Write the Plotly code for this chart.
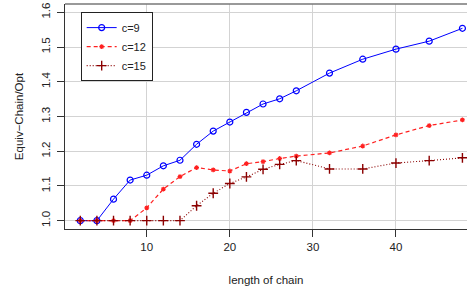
import plotly.graph_objects as go

x_vals = [2, 4, 6, 8, 10, 12, 14, 16, 18, 20, 22, 24, 26, 28, 32, 36, 40, 44, 48]
c9 = [1.0, 1.0, 1.062, 1.117, 1.131, 1.158, 1.174, 1.220, 1.258, 1.284, 1.312,
      1.336, 1.351, 1.374, 1.425, 1.465, 1.494, 1.517, 1.554]
c12 = [1.0, 1.0, 1.0, 1.0, 1.037, 1.091, 1.127, 1.153, 1.146, 1.143, 1.164,
       1.170, 1.179, 1.186, 1.195, 1.215, 1.247, 1.274, 1.290]
c15 = [1.0, 1.0, 1.0, 1.0, 1.0, 1.0, 1.0, 1.043, 1.079, 1.107, 1.126,
       1.148, 1.162, 1.173, 1.149, 1.149, 1.166, 1.173, 1.181]
series_names = ["c=9", "c=12", "c=15"]
x_ticks = [10, 20, 30, 40]
y_ticks = [1.0, 1.1, 1.2, 1.3, 1.4, 1.5, 1.6]

FONT = "Liberation Sans, Arial, sans-serif"

fig = go.Figure()
fig.add_trace(go.Scatter(
    x=x_vals, y=c9, name=series_names[0], mode="lines+markers",
    line=dict(color="#0000FF", width=1),
    marker=dict(symbol="circle-open", size=6, color="#0000FF", line=dict(width=1.2)),
))
fig.add_trace(go.Scatter(
    x=x_vals, y=c12, name=series_names[1], mode="lines+markers",
    line=dict(color="#FF2020", width=1.2, dash="4px,3px"),
    marker=dict(symbol="asterisk-open", size=4, color="#FF2020", line=dict(width=1.2, color="#FF2020")),
))
fig.add_trace(go.Scatter(
    x=x_vals, y=c15, name=series_names[2], mode="lines+markers",
    line=dict(color="#8B0000", width=1.1, dash="1px,2px"),
    marker=dict(symbol="cross-thin-open", size=7, color="#8B0000", line=dict(width=1.4, color="#8B0000")),
))

fig.update_layout(
    width=467, height=290,
    margin=dict(l=65, r=0, t=4, b=61, autoexpand=False),
    paper_bgcolor="white", plot_bgcolor="white",
    font=dict(family=FONT, size=12, color="#222222"),
    showlegend=True,
    legend=dict(
        x=0.039, y=0.964, xanchor="left", yanchor="top",
        bgcolor="white", bordercolor="#222222", borderwidth=1,
        font=dict(size=11), itemwidth=30, tracegroupgap=0,
    ),
    xaxis=dict(
        range=[0.16, 48.55], tickvals=x_ticks, ticktext=[str(t) for t in x_ticks],
        showgrid=True, gridcolor="#D3D3D3", gridwidth=1, automargin=False,
        zeroline=False, showline=True, linecolor="#333333", linewidth=1,
        ticks="outside", ticklen=7, tickcolor="#333333",
        tickfont=dict(size=11.5),
        title=dict(text="length of chain", standoff=24, font=dict(size=11.5)),
    ),
    yaxis=dict(
        range=[0.976, 1.624], tickvals=y_ticks, ticktext=[f"{t:.1f}" for t in y_ticks],
        showgrid=True, gridcolor="#D3D3D3", gridwidth=1, automargin=False,
        zeroline=False, showline=True, linecolor="#333333", linewidth=1,
        ticks="outside", ticklen=7, tickcolor="#333333", tickangle=-90,
        tickfont=dict(size=11.5), ticklabelstandoff=2,
        title=dict(text="Equiv\u2212Chain/Opt", standoff=14, font=dict(size=11.5)),
    ),
    shapes=[dict(type="line", xref="paper", yref="paper", x0=0, x1=1, y0=1, y1=1,
                 line=dict(color="#777777", width=1.5))],
)

fig.write_html("out.html", config={"displayModeBar": False},
               post_script="document.body.style.margin='0';document.body.style.overflow='hidden';")
